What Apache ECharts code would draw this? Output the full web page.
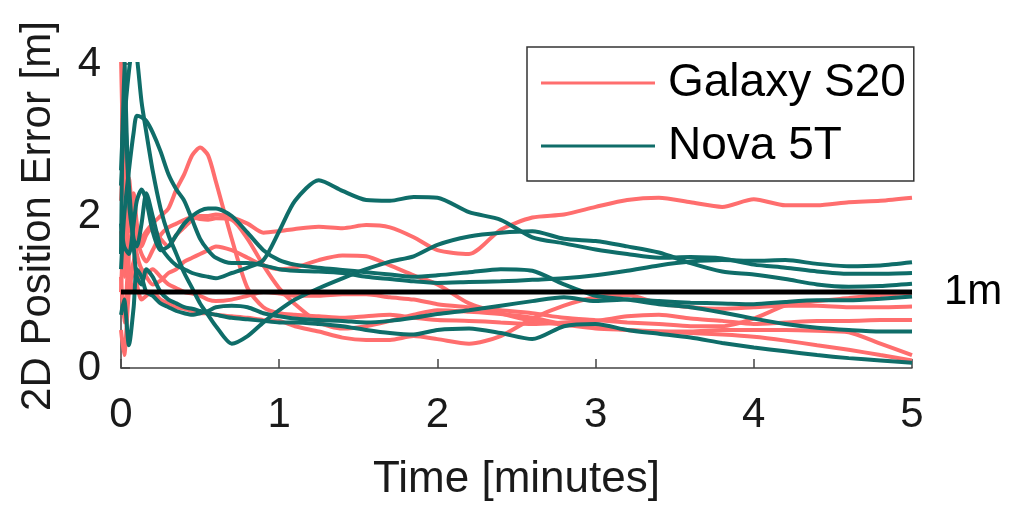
<!DOCTYPE html>
<html>
<head>
<meta charset="utf-8">
<script src="https://cdn.jsdelivr.net/npm/echarts@6/dist/echarts.min.js"></script>
<style>
  html, body { margin: 0; padding: 0; background: #fff; }
  #chart { width: 1030px; height: 507px; }
</style>
</head>
<body>
<div id="chart"></div>
<script>
// Sample times (minutes) shared by every run
const times = [0, 0.02, 0.05, 0.08, 0.1, 0.13, 0.16, 0.2, 0.25, 0.3, 0.35, 0.4, 0.45, 0.5, 0.55, 0.6,
  0.7, 0.8, 0.9, 1.0, 1.1, 1.25, 1.4, 1.55, 1.7, 1.85, 2.0, 2.2, 2.4, 2.6, 2.8, 3.0, 3.2, 3.4, 3.6,
  3.8, 4.0, 4.2, 4.4, 4.6, 4.8, 5.0];

// 2D position error (m) per run, Galaxy S20
const galaxyRun1 = [4.1,2.5,1.8,2.3,1.9,1.6,1.75,1.85,1.7,1.6,1.75,1.85,1.95,2.0,2.0,2.02,1.98,1.9,1.78,1.8,1.83,1.86,1.84,1.88,1.85,1.72,1.55,1.5,1.82,1.98,2.02,2.12,2.21,2.24,2.18,2.12,2.22,2.14,2.14,2.18,2.2,2.24];
const galaxyRun2 = [1.0,1.8,1.2,1.4,1.6,1.7,1.8,1.9,2.0,2.1,2.35,2.55,2.8,2.9,2.8,2.45,1.7,1.05,0.8,0.72,0.7,0.68,0.66,0.68,0.7,0.66,0.63,0.62,0.6,0.58,0.6,0.62,0.68,0.7,0.65,0.62,0.58,0.6,0.62,0.62,0.63,0.63];
const galaxyRun3 = [0.5,0.17,1.0,1.3,1.1,0.9,0.95,1.0,0.9,0.85,0.8,0.78,0.75,0.72,0.72,0.7,0.68,0.66,0.63,0.62,0.55,0.48,0.4,0.37,0.37,0.42,0.38,0.32,0.42,0.65,0.82,0.93,0.96,0.85,0.8,0.78,0.8,0.82,0.82,0.8,0.8,0.81];
const galaxyRun4 = [2.2,3.0,1.3,1.0,1.1,1.3,1.2,1.1,1.15,1.25,1.3,1.4,1.45,1.5,1.55,1.6,1.55,1.45,1.35,1.3,1.32,1.42,1.48,1.47,1.35,1.22,1.1,0.85,0.72,0.62,0.57,0.52,0.5,0.48,0.46,0.44,0.41,0.36,0.3,0.24,0.17,0.1];
const galaxyRun5 = [1.8,1.2,2.5,1.8,1.5,1.3,1.25,1.3,1.2,1.1,1.05,1.0,0.98,0.95,0.9,0.88,0.9,0.95,1.0,0.98,0.95,0.95,0.97,0.97,0.93,0.9,0.84,0.8,0.76,0.72,0.66,0.63,0.6,0.58,0.55,0.55,0.65,0.82,0.88,0.92,0.96,0.99];
const galaxyRun6 = [1.2,0.6,1.5,1.9,1.7,1.5,1.4,1.55,1.75,1.85,1.9,1.95,1.98,1.96,1.95,1.97,1.95,1.7,1.35,1.05,0.84,0.6,0.52,0.55,0.62,0.7,0.76,0.74,0.71,0.66,0.58,0.55,0.5,0.48,0.48,0.5,0.5,0.5,0.49,0.47,0.32,0.17];

// 2D position error (m) per run, Nova 5T
const novaRun1 = [2.4,3.2,3.9,4.3,4.1,3.5,3.1,2.6,2.1,1.75,1.5,1.25,1.05,0.85,0.7,0.55,0.32,0.42,0.6,0.76,0.9,1.05,1.18,1.3,1.4,1.47,1.62,1.73,1.78,1.8,1.7,1.67,1.6,1.52,1.38,1.27,1.23,1.17,1.1,1.07,1.08,1.11];
const novaRun2 = [1.3,2.0,2.6,3.1,3.32,3.3,3.25,3.1,2.85,2.55,2.35,2.2,1.95,1.7,1.55,1.45,1.38,1.38,1.35,1.3,1.28,1.27,1.25,1.2,1.17,1.14,1.12,1.13,1.14,1.16,1.18,1.22,1.28,1.35,1.4,1.42,1.41,1.42,1.37,1.34,1.35,1.39];
const novaRun3 = [1.5,4.1,2.2,1.7,1.6,1.9,2.3,2.0,1.6,1.45,1.35,1.3,1.25,1.22,1.2,1.18,1.25,1.32,1.42,1.8,2.2,2.47,2.33,2.21,2.2,2.25,2.24,2.05,1.95,1.72,1.64,1.56,1.5,1.45,1.46,1.44,1.36,1.32,1.27,1.24,1.24,1.25];
const novaRun4 = [1.9,1.6,1.5,1.9,2.2,2.35,2.2,1.8,1.55,1.6,1.75,1.9,2.0,2.07,2.1,2.1,2.0,1.78,1.55,1.42,1.36,1.32,1.29,1.26,1.23,1.2,1.22,1.26,1.3,1.28,1.1,0.95,0.9,0.84,0.8,0.73,0.65,0.58,0.53,0.5,0.48,0.48];
const novaRun5 = [0.7,0.9,0.3,0.8,1.3,1.2,1.0,0.95,0.85,0.8,0.75,0.72,0.7,0.72,0.75,0.8,0.82,0.8,0.72,0.68,0.65,0.63,0.62,0.6,0.62,0.66,0.71,0.76,0.82,0.88,0.93,0.88,0.9,0.88,0.86,0.85,0.84,0.87,0.89,0.89,0.91,0.94];
const novaRun6 = [2.6,3.4,2.4,1.6,1.2,1.1,1.3,1.2,1.0,0.9,0.85,0.8,0.78,0.75,0.72,0.7,0.66,0.64,0.62,0.6,0.6,0.58,0.55,0.5,0.46,0.44,0.5,0.52,0.46,0.38,0.55,0.58,0.5,0.45,0.4,0.33,0.27,0.22,0.17,0.13,0.1,0.07];

const galaxyRuns = [galaxyRun1, galaxyRun2, galaxyRun3, galaxyRun4, galaxyRun5, galaxyRun6];
const novaRuns = [novaRun1, novaRun2, novaRun3, novaRun4, novaRun5, novaRun6];

const xTicks = [0, 1, 2, 3, 4, 5];
const yTicks = [0, 2, 4];
const targetError = 1;   // reference accuracy line
const targetLabel = '1m';

const GALAXY = 'Galaxy S20';
const NOVA = 'Nova 5T';
const galaxyColor = '#ff6e6e';
const novaColor = '#0f6d69';

const FONT = '"Liberation Sans", Arial, Helvetica, sans-serif';

function runSeries(name, color, values) {
  return {
    name: name,
    type: 'line',
    data: times.map((t, i) => [t, values[i]]),
    symbol: 'none',
    smooth: 0.25,
    clip: true,
    lineStyle: { color: color, width: 4 },
    itemStyle: { color: color },
    silent: true,
    animation: false
  };
}

const series = [];
galaxyRuns.forEach(v => series.push(runSeries(GALAXY, galaxyColor, v)));
novaRuns.forEach(v => series.push(runSeries(NOVA, novaColor, v)));

// Horizontal 1 m reference line with its label at the right end
series.push({
  name: targetLabel,
  type: 'line',
  data: [[xTicks[0], targetError], [xTicks[xTicks.length - 1], targetError]],
  symbol: 'none',
  z: 10,
  lineStyle: { color: '#000', width: 5 },
  itemStyle: { color: '#000' },
  silent: true,
  animation: false,
  endLabel: {
    show: true,
    formatter: targetLabel,
    color: '#000',
    fontFamily: FONT,
    fontSize: 42,
    distance: 32
  }
});

const chart = echarts.init(document.getElementById('chart'), null, { renderer: 'canvas' });
chart.setOption({
  backgroundColor: '#fff',
  animation: false,
  grid: { left: 121, right: 118, top: 64, bottom: 136, containLabel: false },
  legend: {
    data: [{ name: GALAXY, icon: 'rect' }, { name: NOVA, icon: 'rect' }],
    orient: 'vertical',
    left: 527,
    top: 47,
    itemWidth: 114,
    itemHeight: 3,
    itemGap: 13,
    padding: [11, 8, 10, 14],
    borderColor: '#333',
    borderWidth: 1.5,
    backgroundColor: '#fff',
    selectedMode: false,
    textStyle: { fontFamily: FONT, fontSize: 46, color: '#000', lineHeight: 50, padding: [0, 0, 0, 8] }
  },
  xAxis: {
    type: 'value',
    min: xTicks[0],
    max: xTicks[xTicks.length - 1],
    interval: 1,
    name: 'Time [minutes]',
    nameLocation: 'middle',
    nameGap: 90,
    nameTextStyle: { fontFamily: FONT, fontSize: 44, color: '#1a1a1a' },
    axisLine: { show: true, lineStyle: { color: '#444', width: 1.5 } },
    axisTick: { show: true, inside: true, length: 9, lineStyle: { color: '#444', width: 1.5 } },
    axisLabel: { fontFamily: FONT, fontSize: 42, color: '#1a1a1a', margin: 26 },
    splitLine: { show: false }
  },
  yAxis: {
    type: 'value',
    min: yTicks[0],
    max: yTicks[yTicks.length - 1],
    interval: 2,
    name: '2D Position Error [m]',
    nameLocation: 'middle',
    nameGap: 62,
    nameTextStyle: { fontFamily: FONT, fontSize: 42, color: '#1a1a1a' },
    axisLine: { show: true, lineStyle: { color: '#444', width: 1.5 } },
    axisTick: { show: true, inside: true, length: 9, lineStyle: { color: '#444', width: 1.5 } },
    axisLabel: { fontFamily: FONT, fontSize: 42, color: '#1a1a1a', margin: 20 },
    splitLine: { show: false }
  },
  series: series
});
</script>
</body>
</html>
